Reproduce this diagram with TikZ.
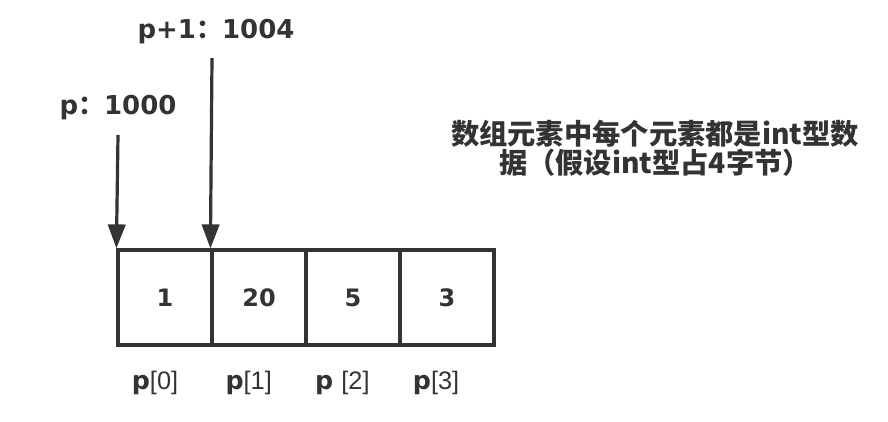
\documentclass[tikz,border=0pt]{standalone}
\usepackage{fontspec}
\setmainfont{DejaVu Sans}
\newfontfamily\cjk{Noto Sans CJK SC}
\newfontfamily\thinfont{Liberation Sans}
\usepackage{tikz}
\usetikzlibrary{positioning, arrows.meta}
\definecolor{aInk}{HTML}{333333}
\tikzset{
  cell/.style={draw=aInk, line width=2.4pt, minimum width=70.5pt, minimum height=71.25pt,
    inner sep=0pt, font=\bfseries\fontsize{18}{21}\selectfont, text=aInk},
  ptrlabel/.style={font=\bfseries\fontsize{19.5}{22}\selectfont, text=aInk, inner sep=1pt},
  idx/.style={font=\fontsize{19}{22}\selectfont, text=aInk, inner sep=1pt},
  ptrarrow/.style={-{Triangle[width=13pt, length=18pt]}, line width=2.4pt, draw=aInk},
}
\begin{document}
\begin{tikzpicture}[x=0.75pt, y=-0.75pt]
  \useasboundingbox (0,0) rectangle (888,421);
  % array cells
  \foreach \i/\v/\g in {0/1/{},1/20/{},2/5/{\ },3/3/{}} {
    \node[cell] (c\i) at ({165+94*\i},297.5) {\v};
    \node[idx] (ix\i) at ({155+93.7*\i},383) {\textbf{p}\g\thinfont[\i]};
  }
  % pointers
  \node[ptrlabel] (lp0) at (118,108) {p{\cjk\bfseries ：}1000};
  \node[ptrlabel] (lp1) at (216,32) {p+1{\cjk\bfseries ：}1004};
  \coordinate (s0) at (118,135);
  \coordinate (s1) at (212,58);
  \draw[ptrarrow] (s0) -- (c0.north west);
  \draw[ptrarrow] (s1) -- (c1.north west);
  % note
  \node[font=\cjk\bfseries\fontsize{21.2}{21.75}\selectfont, text=aInk, align=center]
    (note) at (655,148) {数组元素中每个元素都是int型数\\据（假设int型占4字节）};
\end{tikzpicture}
\end{document}
